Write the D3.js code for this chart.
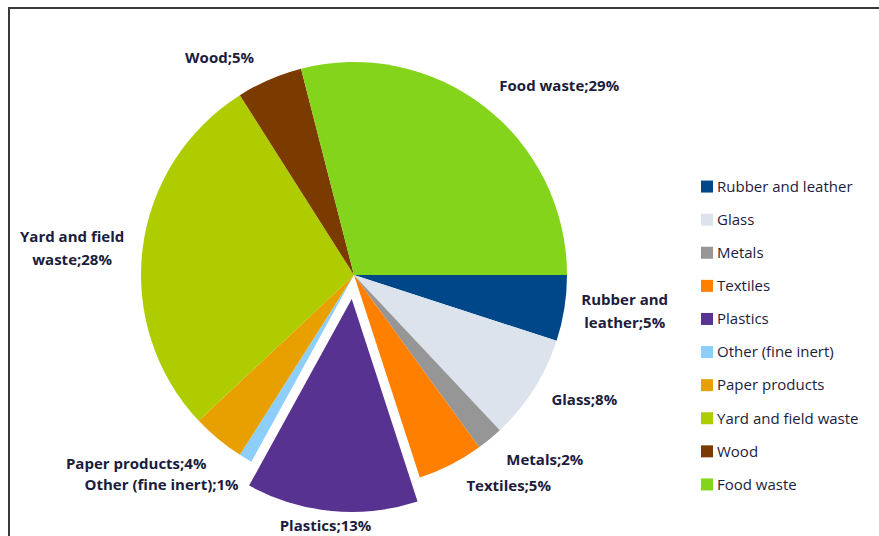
<!DOCTYPE html>
<meta charset="utf-8">
<html lang="en">
<head>
    <script src="https://d3js.org/d3.v7.min.js"></script>
    <style>
        body { margin: 0; background: #fff; }
        svg { display: block; }
    </style>
</head>
<body>
    <svg></svg>
</body>
</html>
<script>
    // data, clockwise from 3 o'clock
    const categories = ["Rubber and leather", "Glass", "Metals", "Textiles", "Plastics",
        "Other (fine inert)", "Paper products", "Yard and field waste", "Wood", "Food waste"];
    const shares = [5, 8, 2, 5, 13, 1, 4, 28, 5, 29];
    const colors = ["#00478a", "#dce3ec", "#969696", "#ff8000", "#573290",
        "#8dcefa", "#e8a000", "#aecc00", "#7b3a00", "#84d41b"];

    let width = 879, height = 536;
    let cx = 354, cy = 275, radius = 213;
    let explode = "Plastics";
    let explodeDist = 24;
    const textColor = "#1c1c3c";

    // nudges of the data labels from their default spot (layout only)
    const labelNudge = {
        "Rubber and leather": [6, -6],
        "Glass": [4, -19],
        "Metals": [20, -22],
        "Textiles": [33, -28],
        "Plastics": [-1, -40],
        "Other (fine inert)": [-56, -21],
        "Paper products": [-47, -18],
        "Yard and field waste": [-16, 7],
        "Wood": [-28, 29],
        "Food waste": [41, 23]
    };
    const labelLines = {
        "Rubber and leather": ["Rubber and", "leather;5%"],
        "Yard and field waste": ["Yard and field", "waste;28%"]
    };

    let svg = d3.select("svg")
        .attr("width", width)
        .attr("height", height);

    // frame (only top and left edges visible)
    svg.append("rect")
        .attr("x", 9).attr("y", 8)
        .attr("width", width + 20).attr("height", height + 20)
        .attr("fill", "none")
        .attr("stroke", "#3a3a3a")
        .attr("stroke-width", 2);

    let data = categories.map((c, i) => ({ name: c, value: shares[i], color: colors[i] }));

    let pie = d3.pie()
        .sort(null)
        .value(d => d.value)
        .startAngle(Math.PI / 2)
        .endAngle(Math.PI / 2 + 2 * Math.PI);

    let arc = d3.arc().innerRadius(0).outerRadius(radius);
    let labelArc = d3.arc().innerRadius(268).outerRadius(268);

    let arcs = pie(data);

    let g = svg.append("g").attr("transform", `translate(${cx},${cy})`);

    function shift(d) {
        if (d.data.name !== explode) return [0, 0];
        let a = (d.startAngle + d.endAngle) / 2;
        return [explodeDist * Math.sin(a), -explodeDist * Math.cos(a)];
    }

    g.selectAll("path")
        .data(arcs)
        .enter()
        .append("path")
        .attr("d", arc)
        .attr("transform", d => `translate(${shift(d)})`)
        .attr("fill", d => d.data.color);

    let labels = g.selectAll("text.lbl")
        .data(arcs)
        .enter()
        .append("text")
        .attr("class", "lbl")
        .attr("transform", d => {
            let c = labelArc.centroid(d);
            let s = shift(d);
            let n = labelNudge[d.data.name];
            return `translate(${c[0] + s[0] + n[0]},${c[1] + s[1] + n[1]})`;
        })
        .attr("text-anchor", "middle")
        .style("font-family", "'Open Sans', sans-serif")
        .style("font-weight", "700")
        .style("font-size", "15px")
        .attr("fill", textColor);

    labels.each(function (d) {
        let lines = labelLines[d.data.name] || [d.data.name + ";" + d.data.value + "%"];
        let t = d3.select(this);
        lines.forEach((l, i) => {
            t.append("tspan")
                .attr("x", 0)
                .attr("y", (i - (lines.length - 1) / 2) * 23)
                .attr("dy", "0.35em")
                .text(l);
        });
    });

    // legend
    let legendY = d3.scaleBand()
        .domain(categories)
        .range([170, 501]);

    let legend = svg.append("g")
        .selectAll("g")
        .data(data)
        .enter()
        .append("g")
        .attr("transform", d => `translate(701,${legendY(d.name) + legendY.bandwidth() / 2})`);

    legend.append("rect")
        .attr("x", 0).attr("y", -6)
        .attr("width", 12).attr("height", 12)
        .attr("fill", d => d.color);

    legend.append("text")
        .attr("x", 16)
        .attr("dy", "0.35em")
        .style("font-family", "'Open Sans', sans-serif")
        .style("font-size", "15px")
        .attr("fill", textColor)
        .text(d => d.name);
</script>
